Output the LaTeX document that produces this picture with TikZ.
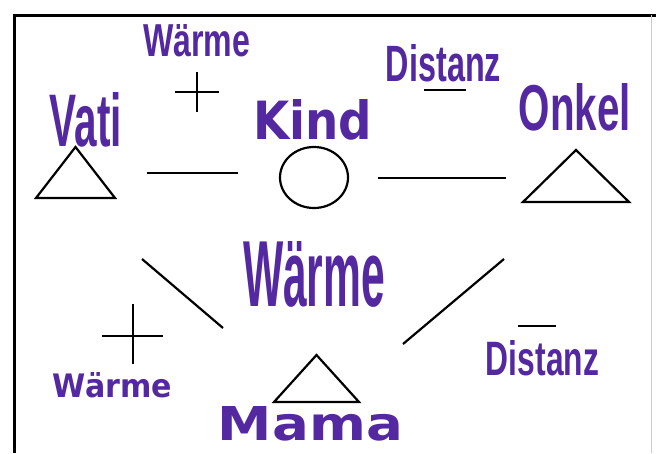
\documentclass[tikz,border=0pt]{standalone}
\usepackage{fontspec}
\usepackage{graphicx}
\usetikzlibrary{shapes.geometric}
\newfontfamily\condfont{Liberation Sans}
\newfontfamily\widefont{DejaVu Sans}
\definecolor{wordart}{RGB}{84,40,160}
\tikzset{
  condtext/.style={inner sep=0pt, outer sep=0pt, text=wordart, font=\condfont\bfseries},
  widetext/.style={inner sep=0pt, outer sep=0pt, text=wordart, font=\widefont\bfseries},
  shapebox/.style={inner sep=0pt, outer sep=0pt},
  outline/.style={line width=2.2pt, line join=miter, black},
  link/.style={line width=2.2pt, black},
  signline/.style={line width=1.8pt, black},
  frameline/.style={line width=3pt, black},
  faintline/.style={line width=1pt, black!20}
}
\begin{document}
\begin{tikzpicture}[x=1pt, y=-1pt]
\useasboundingbox (0,0) rectangle (656,453);
\fill[white] (0,0) rectangle (656,453);
% frame
\coordinate (fTL) at (14,15);
\coordinate (fTR) at (656,15);
\coordinate (fBL) at (14,453);
\draw[frameline] (fTR) -- (fTL) -- (fBL);
\coordinate (fRT) at (651,15);
\coordinate (fRB) at (651,453);
\draw[faintline] (fRT) -- (fRB);

% shapes
\node[shapebox, minimum width=79pt, minimum height=51pt] (vatiT) at (75.5,172.5) {};
\draw[outline] (vatiT.north) -- (vatiT.south west) -- (vatiT.south east) -- cycle;
\node[shapebox, minimum width=106pt, minimum height=52pt] (onkelT) at (576,176) {};
\draw[outline] (onkelT.north) -- (onkelT.south west) -- (onkelT.south east) -- cycle;
\node[shapebox, minimum width=85pt, minimum height=47pt] (mamaT) at (316.5,378.5) {};
\draw[outline] (mamaT.north) -- (mamaT.south west) -- (mamaT.south east) -- cycle;
\node[shapebox, ellipse, draw, line width=2.2pt, minimum width=68pt, minimum height=61pt] (kindC) at (314,177.5) {};

% connectors
\draw[link] ([shift={(71.5,0.5)}]vatiT.center) -- ([shift={(-76,-4.5)}]kindC.center);
\draw[link] ([shift={(64,0.5)}]kindC.center) -- ([shift={(-70,2)}]onkelT.center);
\draw[link] ([shift={(66.5,86.5)}]vatiT.center) -- ([shift={(-93.5,-50.5)}]mamaT.center);
\draw[link] ([shift={(-72,83)}]onkelT.center) -- ([shift={(86.5,-34.5)}]mamaT.center);

% signs
\coordinate (plusTop) at (197,92);
\draw[signline] ([shift={(-22,0)}]plusTop) -- ([shift={(22,0)}]plusTop);
\draw[signline] ([shift={(0,-20)}]plusTop) -- ([shift={(0,20)}]plusTop);
\coordinate (plusLow) at (133,335);
\draw[signline] ([shift={(-31,1)}]plusLow) -- ([shift={(30,1)}]plusLow);
\draw[signline] ([shift={(0,-31)}]plusLow) -- ([shift={(0,29)}]plusLow);
\coordinate (minusTop) at (445,90);
\draw[signline] ([shift={(-21,0)}]minusTop) -- ([shift={(21,0)}]minusTop);
\coordinate (minusLow) at (537,326);
\draw[signline] ([shift={(-19,0)}]minusLow) -- ([shift={(19,0)}]minusLow);

% texts
\node[condtext] (waermeTop) at (196.5,41) {\resizebox{107pt}{32pt}{Wärme}};
\node[condtext] (distTop) at (443.5,63.5) {\resizebox{115pt}{37pt}{Distanz}};
\node[condtext] (vati) at (86,120) {\resizebox{72pt}{54pt}{Vati}};
\node[widetext] (kind) at (312.5,120) {\resizebox{119pt}{40pt}{Kind}};
\node[condtext] (onkel) at (575,107.5) {\resizebox{112pt}{47pt}{Onkel}};
\node[condtext] (waermeBig) at (314,274.5) {\resizebox{142pt}{65pt}{Wärme}};
\node[widetext] (waermeLow) at (112.5,385.5) {\resizebox{119pt}{25pt}{Wärme}};
\node[condtext] (distLow) at (542.5,358.5) {\resizebox{113pt}{35pt}{Distanz}};
\node[widetext] (mama) at (310.5,424) {\resizebox{185pt}{34pt}{Mama}};
\end{tikzpicture}
\end{document}
